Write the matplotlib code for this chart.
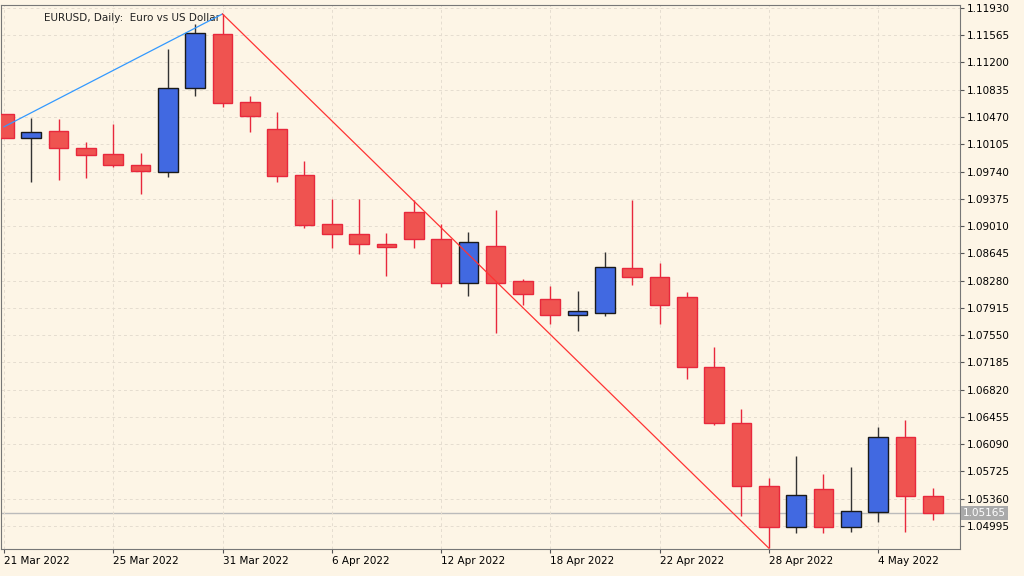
import matplotlib
matplotlib.use("Agg")
import matplotlib.pyplot as plt
import numpy as np

opens  = [1.10513,1.10192,1.10286,1.10058,1.09978,1.09831,1.09737,1.10860,1.11582,1.10673,1.10312,1.09697,1.09042,1.08909,1.08775,1.09202,1.08842,1.08253,1.08748,1.08280,1.08039,1.07812,1.07852,1.08454,1.08334,1.08053,1.07117,1.06368,1.05526,1.04978,1.05486,1.04978,1.05178,1.06181,1.05392]
highs  = [1.10513,1.10459,1.10446,1.10138,1.10379,1.09991,1.11382,1.11716,1.11850,1.10753,1.10540,1.09884,1.09376,1.09376,1.08922,1.09363,1.09042,1.08935,1.09229,1.08307,1.08213,1.08146,1.08668,1.09363,1.08521,1.08133,1.07384,1.06555,1.05633,1.05927,1.05686,1.05780,1.06314,1.06408,1.05499]
lows   = [1.10192,1.09604,1.09630,1.09657,1.09804,1.09443,1.09670,1.10753,1.10606,1.10272,1.09604,1.08989,1.08721,1.08641,1.08347,1.08721,1.08200,1.08079,1.07571,1.07946,1.07692,1.07598,1.07799,1.08227,1.07692,1.06956,1.06341,1.05125,1.04697,1.04898,1.04898,1.04911,1.05045,1.04911,1.05071]
closes = [1.10192,1.10272,1.10058,1.09965,1.09831,1.09751,1.10860,1.11596,1.10660,1.10486,1.09684,1.09029,1.08909,1.08775,1.08735,1.08842,1.08253,1.08802,1.08253,1.08106,1.07812,1.07866,1.08467,1.08334,1.07946,1.07117,1.06368,1.05526,1.04978,1.05406,1.04978,1.05192,1.06181,1.05392,1.05165]
date_ticks = [0, 4, 8, 12, 16, 20, 24, 28, 32]
date_labels = ["21 Mar 2022","25 Mar 2022","31 Mar 2022","6 Apr 2022","12 Apr 2022","18 Apr 2022","22 Apr 2022","28 Apr 2022","4 May 2022"]
price_ticks = [1.11930,1.11565,1.11200,1.10835,1.10470,1.10105,1.09740,1.09375,1.09010,1.08645,1.08280,1.07915,1.07550,1.07185,1.06820,1.06455,1.06090,1.05725,1.05360,1.04995]
zig_x = [0, 8, 28]
zig_y = [1.10339, 1.11850, 1.04697]
last_price = 1.05165

bg = "#FDF5E6"
fig = plt.figure(figsize=(10.24, 5.76), dpi=100, facecolor=bg)
ax = fig.add_axes([1/1024, 1-549/576, 959/1024, 544/576], facecolor=bg)

for i in range(len(opens)):
    o, h, l, c = opens[i], highs[i], lows[i], closes[i]
    up = c >= o
    fc = "#4169E1" if up else "#EF5350"
    ec = "#1a1a1a" if up else "#E8283C"
    wc = "#333333" if up else "#E8283C"
    ax.vlines(i, l, h, color=wc, lw=1, zorder=2)
    ax.bar(i, abs(c - o) if abs(c-o) > 0 else 0.00003, bottom=min(o, c), width=0.72,
           color=fc, edgecolor=ec, lw=1, zorder=3)

ax.plot(zig_x[:2], zig_y[:2], color="#3399FF", lw=0.9, zorder=4)
ax.plot(zig_x[1:], zig_y[1:], color="#FF3333", lw=0.9, zorder=4)
ax.axhline(last_price, color="#BBBBBB", lw=1, zorder=1)

ax.set_xlim(-0.11, 35.0)
ax.set_ylim(1.04685, 1.11970)
ax.yaxis.tick_right()
ax.set_yticks(price_ticks)
ax.set_yticklabels([f"{p:.5f}" for p in price_ticks], fontsize=7.5)
ax.set_xticks(date_ticks)
ax.set_xticklabels(date_labels, fontsize=7.5, ha="left")
ax.tick_params(axis="both", length=3, color="#555555", pad=2)
ax.grid(True, color="#E5DDD0", ls=(0, (3, 3)), lw=0.7)
for s in ax.spines.values():
    s.set_color("#777777")
ax.text(1.003, last_price, f"{last_price:.5f}", transform=ax.get_yaxis_transform(),
        fontsize=7.5, color="white", va="center", ha="left",
        bbox=dict(boxstyle="square,pad=0.2", fc="#AAAAAA", ec="none"))
ax.text(0.045, 0.985, "EURUSD, Daily:  Euro vs US Dollar", transform=ax.transAxes,
        fontsize=7.5, va="top", ha="left", color="#222222")
fig.savefig("out.png", dpi=100, facecolor=bg)
